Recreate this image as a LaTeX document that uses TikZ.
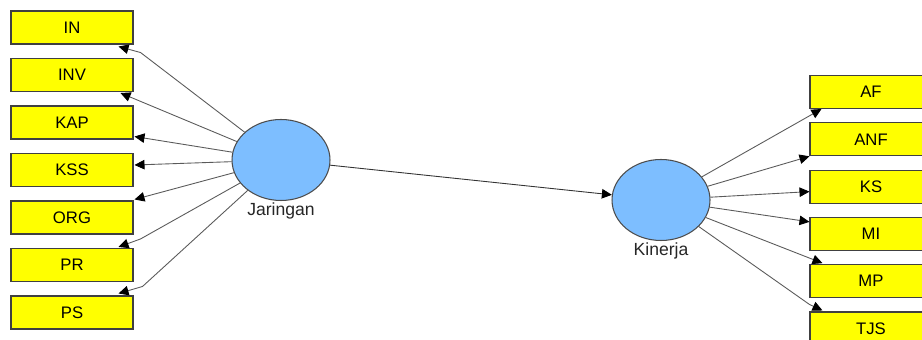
\documentclass[tikz,border=0pt]{standalone}
\usepackage{fontspec}
\setmainfont{Liberation Sans}
\usetikzlibrary{arrows.meta,shapes.geometric}
\definecolor{boxyellow}{RGB}{255,255,0}
\definecolor{latentblue}{RGB}{125,190,255}
\definecolor{edgegray}{RGB}{90,90,90}
\tikzset{
  indicator/.style={draw=black!75, line width=0.6pt, fill=boxyellow,
    minimum width=2.44cm, minimum height=0.66cm, inner sep=0pt,
    font=\fontsize{9.5}{11}\selectfont},
  latent/.style={ellipse, draw=black!70, line width=0.6pt, fill=latentblue,
    minimum width=1.96cm, minimum height=1.62cm, inner sep=0pt},
  lbl/.style={font=\fontsize{10}{12}\selectfont, text=black!85, inner sep=1pt},
  link/.style={draw=edgegray, line width=0.5pt,
    -{Triangle[length=0.2cm,width=0.19cm,color=black]}},
}
\begin{document}
\begin{tikzpicture}[x=0.02cm, y=-0.02cm]
  \clip (0, 0) rectangle (922, 340);
  \fill[white] (0, 0) rectangle (922, 340);

  % latent variables
  \node[latent, label={[lbl, label distance=0pt]below:Jaringan}] (jar) at (281, 160) {};
  \node[latent, label={[lbl, label distance=0pt]below:Kinerja}] (kin) at (661, 200) {};

  % indicators
  \foreach \name/\txt [count=\i] in {in/IN, inv/INV, kap/KAP, kss/KSS, org/ORG, pr/PR, ps/PS} {
    \node[indicator] (\name) at (72, {27.5 + 47.5*(\i-1)}) {\txt};
  }
  \foreach \name/\txt [count=\i] in {af/AF, anf/ANF, ks/KS, mi/MI, mp/MP, tjs/TJS} {
    \node[indicator] (\name) at (871, {92 + 47.3*(\i-1)}) {\txt};
  }

  % Jaringan -> left indicators
  \draw[link] (jar) -- ([shift={(7,8)}]in.south east) -- ([shift={(-15,2)}]in.south east);
  \draw[link] (jar) -- ([shift={(-13,1)}]inv.south east);
  \draw[link] (jar) -- ([shift={(1,-3)}]kap.south east);
  \draw[link] (jar) -- ([shift={(1,-5)}]kss.east);
  \draw[link] (jar) -- ([shift={(1,-1)}]org.north east);
  \draw[link] (jar) -- ([shift={(7,-9)}]pr.north east) -- ([shift={(-15,-1)}]pr.north east);
  \draw[link] (jar) -- ([shift={(9,-9)}]ps.north east) -- ([shift={(-15,-2)}]ps.north east);

  % Jaringan -> Kinerja
  \draw[link, draw=black!80] (jar) -- (kin);

  % Kinerja -> right indicators
  \draw[link] (kin) -- ([shift={(12,0)}]af.south west);
  \draw[link] (kin) -- (anf.south west);
  \draw[link] (kin) -- ([shift={(0,5)}]ks.west);
  \draw[link] (kin) -- ([shift={(0,5)}]mi.north west);
  \draw[link] (kin) -- ([shift={(13,-1)}]mp.north west);
  \draw[link] (kin) -- ([shift={(0,-7)}]tjs.north west) -- ([shift={(13,-1)}]tjs.north west);
\end{tikzpicture}
\end{document}
